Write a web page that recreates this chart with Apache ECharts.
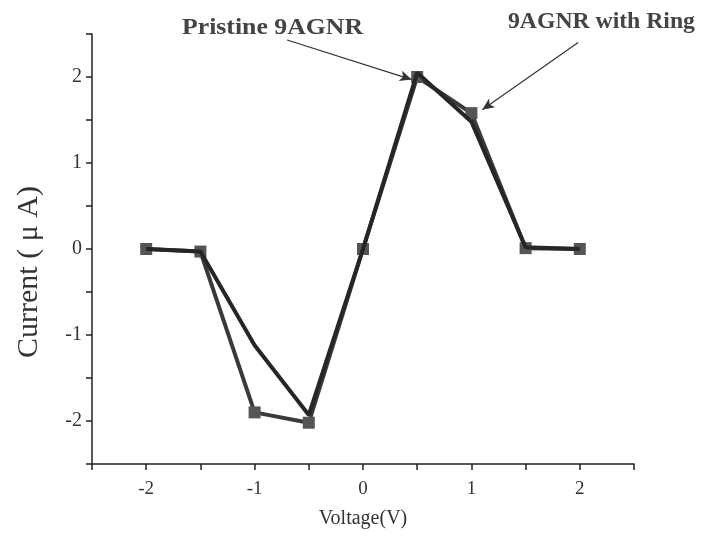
<!DOCTYPE html>
<html>
<head>
<meta charset="utf-8">
<script src="https://cdn.jsdelivr.net/npm/echarts@6/dist/echarts.min.js"></script>
<style>
  html, body { margin: 0; padding: 0; background: #fff; }
  #chart { width: 713px; height: 546px; }
</style>
</head>
<body>
<div id="chart"></div>
<script>
'use strict';

var voltage = [-2, -1.5, -1, -0.5, 0, 0.5, 1, 1.5, 2];
var ringCurrent = [0, -0.03, -1.9, -2.02, 0, 2.0, 1.58, 0.01, 0];
var pristineCurrent = [0, -0.03, -1.12, -1.93, 0, 2.05, 1.48, 0.02, 0];

var SERIF = '"Liberation Serif", "DejaVu Serif", serif';

function pairs(xs, ys) {
    var out = [];
    for (var i = 0; i < xs.length; i++) {
        out.push([xs[i], ys[i]]);
    }
    return out;
}

// labels only on whole volts / microamps, ticks every half step
function intLabel(v) {
    return Math.abs(v - Math.round(v)) < 1e-9 ? String(Math.round(v)) : '';
}

var chart = echarts.init(document.getElementById('chart'));

var axisLine = { onZero: false, lineStyle: { color: '#222', width: 1.5 } };
var axisTick = { show: true, inside: false, length: 6, lineStyle: { color: '#222', width: 1.5 } };

var options = {
    animation: false,
    backgroundColor: '#fff',
    grid: {
        left: 92,
        right: 79,
        top: 34,
        bottom: 82
    },
    xAxis: {
        type: 'value',
        min: -2.5,
        max: 2.5,
        interval: 0.5,
        name: 'Voltage(V)',
        nameLocation: 'middle',
        nameGap: 45,
        nameTextStyle: { fontFamily: SERIF, fontSize: 20, color: '#333' },
        axisLine: axisLine,
        axisTick: axisTick,
        axisLabel: { formatter: intLabel, fontFamily: SERIF, fontSize: 19, color: '#333', margin: 16 },
        splitLine: { show: false }
    },
    yAxis: {
        type: 'value',
        min: -2.5,
        max: 2.5,
        interval: 0.5,
        axisLine: axisLine,
        axisTick: axisTick,
        axisLabel: { formatter: intLabel, fontFamily: SERIF, fontSize: 20, color: '#333', margin: 10 },
        splitLine: { show: false }
    },
    series: [
        {
            name: '9AGNR with Ring',
            type: 'line',
            data: pairs(voltage, ringCurrent),
            symbol: 'rect',
            symbolSize: 12,
            showAllSymbol: true,
            itemStyle: { color: '#555' },
            lineStyle: { color: '#3a3a3a', width: 4 },
            z: 2
        },
        {
            name: 'Pristine 9AGNR',
            type: 'line',
            data: pairs(voltage, pristineCurrent),
            symbol: 'none',
            lineStyle: { color: '#262626', width: 4 },
            z: 3,
            markLine: {
                silent: true,
                symbol: ['none', 'arrow'],
                symbolSize: [8, 12],
                label: { show: false },
                lineStyle: { color: '#333', width: 1.2, type: 'solid' },
                data: [
                    [{ coord: [-0.7, 2.43] }, { coord: [0.45, 1.97] }],
                    [{ coord: [1.985, 2.4] }, { coord: [1.1, 1.62] }]
                ]
            }
        }
    ],
    graphic: [
        {
            type: 'text',
            x: 29,
            y: 272,
            rotation: Math.PI / 2,
            style: {
                text: 'Current ( \u03bc A)',
                font: '30px ' + SERIF,
                fill: '#333',
                align: 'center',
                verticalAlign: 'middle'
            }
        },
        {
            type: 'text',
            x: 182,
            y: 17,
            scaleX: 1.12,
            style: { text: 'Pristine 9AGNR', font: 'bold 23px ' + SERIF, fill: '#444' }
        },
        {
            type: 'text',
            x: 508,
            y: 11,
            scaleX: 1.03,
            style: { text: '9AGNR with Ring', font: 'bold 23px ' + SERIF, fill: '#444' }
        }
    ]
};

chart.setOption(options);
</script>
</body>
</html>
